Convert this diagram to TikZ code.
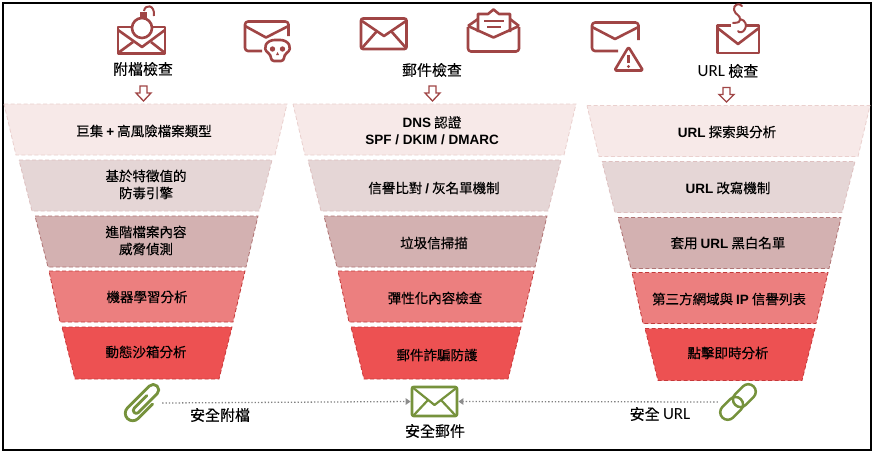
\documentclass[tikz,border=0pt]{standalone}
\usepackage{fontspec}
\setmainfont{Noto Sans CJK TC}[FakeBold=0.3]
\newfontfamily\latb{Liberation Sans}
\newfontfamily\latc{Carlito}
\usetikzlibrary{arrows.meta}
\definecolor{mailred}{HTML}{A04545}
\definecolor{mailgreen}{HTML}{76923C}
\newcommand{\ltn}[1]{{\latb\bfseries #1}}
\newcommand{\hdr}[1]{{\latc #1}}
\tikzset{
  rowa/.style={fill=#1,dash pattern=on 4pt off 2.5pt,line width=.8pt},
  lvla/.style={rowa=lvlafill,draw=lvlaline},
  lvlb/.style={rowa=lvlbfill,draw=lvlbline},
  lvlc/.style={rowa=lvlcfill,draw=lvlcline},
  lvld/.style={rowa=lvldfill,draw=lvldline},
  lvle/.style={rowa=lvlefill,draw=lvleline},
  rowtext/.style={align=center,inner sep=0pt,yshift=-1pt,font=\fontsize{13.5}{17}\selectfont},
  headtext/.style={align=center,inner sep=0pt,yshift=-1pt,font=\fontsize{15}{18}\selectfont},
  icon/.style={draw=mailred,line width=2.6pt,line join=round},
  okicon/.style={draw=mailgreen,line width=2.8pt,line join=round},
  downarrow/.style={draw=mailred,fill=white,line width=1.3pt,line join=miter},
  flowline/.style={draw=black!50,line width=1.3pt,dotted,-{Triangle[length=5pt,width=6.5pt,color=black!45]}}
}
\definecolor{lvlafill}{HTML}{F7E9E8}\definecolor{lvlaline}{HTML}{EAD0CE}
\definecolor{lvlbfill}{HTML}{E5D6D6}\definecolor{lvlbline}{HTML}{DDBFBF}
\definecolor{lvlcfill}{HTML}{D3B1B1}\definecolor{lvlcline}{HTML}{B07474}
\definecolor{lvldfill}{HTML}{EC7F7F}\definecolor{lvldline}{HTML}{C23A3A}
\definecolor{lvlefill}{HTML}{ED5152}\definecolor{lvleline}{HTML}{C8383A}
\begin{document}
\begin{tikzpicture}[x=1pt,y=-1pt]
\useasboundingbox (0,0) rectangle (874,453);
\fill[white] (0,0) rectangle (874,453);
\draw[line width=2.5pt] (3,3) rectangle (871,450);

% attachment column
\draw[lvla] (4,104) -- (287,104) -- (275,155) -- (16,155) -- cycle;
\draw[lvlb] (19,160) -- (272,160) -- (259,211) -- (32,211) -- cycle;
\draw[lvlc] (35,216) -- (258,216) -- (246,267) -- (48,267) -- cycle;
\draw[lvld] (49,271) -- (245,271) -- (233,322) -- (60,322) -- cycle;
\draw[lvle] (62,327) -- (232,327) -- (219,379) -- (75,379) -- cycle;
\node[rowtext] (a1) at (144,130) {巨集 \ltn{+} 高風險檔案類型};
\node[rowtext] (a2) at (146,183.5) {基於特徵值的\\防毒引擎};
\node[rowtext] (a3) at (146,239.5) {進階檔案內容\\威脅偵測};
\node[rowtext] (a4) at (147,296) {機器學習分析};
\node[rowtext] (a5) at (146,351) {動態沙箱分析};

% mail column
\draw[lvla] (293,104) -- (576,104) -- (564,155) -- (305,155) -- cycle;
\draw[lvlb] (308,160) -- (561,160) -- (548,211) -- (321,211) -- cycle;
\draw[lvlc] (324,216) -- (547,216) -- (535,267) -- (337,267) -- cycle;
\draw[lvld] (338,271) -- (534,271) -- (522,322) -- (349,322) -- cycle;
\draw[lvle] (351,327) -- (521,327) -- (508,379) -- (364,379) -- cycle;
\node[rowtext] (b1) at (432,129.5) {\ltn{DNS} 認證\\\ltn{SPF / DKIM / DMARC}};
\node[rowtext] (b2) at (434,187) {信譽比對 \ltn{/} 灰名單機制};
\node[rowtext] (b3) at (434,242) {垃圾信掃描};
\node[rowtext] (b4) at (435,297) {彈性化內容檢查};
\node[rowtext] (b5) at (437,354) {郵件詐騙防護};

% url column
\draw[lvla] (587,105.5) -- (870,105.5) -- (858,156.5) -- (599,156.5) -- cycle;
\draw[lvlb] (602,161.5) -- (855,161.5) -- (842,212.5) -- (615,212.5) -- cycle;
\draw[lvlc] (618,217.5) -- (841,217.5) -- (829,268.5) -- (631,268.5) -- cycle;
\draw[lvld] (632,272.5) -- (828,272.5) -- (816,323.5) -- (643,323.5) -- cycle;
\draw[lvle] (645,328.5) -- (815,328.5) -- (802,380.5) -- (658,380.5) -- cycle;
\node[rowtext] (c1) at (727,131) {\ltn{URL} 探索與分析};
\node[rowtext] (c2) at (728,187) {\ltn{URL} 改寫機制};
\node[rowtext] (c3) at (728,242) {套用 \ltn{URL} 黑白名單};
\node[rowtext] (c4) at (729,298) {第三方網域與 \ltn{IP} 信譽列表};
\node[rowtext] (c5) at (728,352) {點擊即時分析};

% headings
\node[headtext] (heada) at (143,68) {附檔檢查};
\node[headtext] (headb) at (432,69) {郵件檢查};
\node[headtext] (headc) at (728,70) {{\fontsize{17}{18}\selectfont\hdr{URL}} 檢查};

% hollow arrows
\draw[downarrow] (140,86) -- (147,86) -- (147,93) -- (151,93) -- (143.5,101) -- (136,93) -- (140,93) -- cycle;
\draw[downarrow] (429,86) -- (436,86) -- (436,93) -- (440,93) -- (432.5,101) -- (425,93) -- (429,93) -- cycle;
\draw[downarrow] (723,87.5) -- (730,87.5) -- (730,94.5) -- (734,94.5) -- (726.5,102) -- (719,94.5) -- (723,94.5) -- cycle;

% bomb mail
\draw[icon] (118,27) rectangle (165,53.5);
\draw[icon] (118,30) -- (142,47) -- (165,30);
\draw[icon] (118,53) -- (133,42);
\draw[icon] (165,53) -- (151,42);
\draw[icon,fill=white] (142,28) circle (10);
\fill[mailred] (139.5,12) rectangle (147,18);
\draw[icon,line width=2pt] (144,11) .. controls (145,4) and (155,4) .. (154,16);

% skull mail
\draw[icon,rounded corners=3pt] (262,51) -- (245,51) -- (245,21.5) -- (288.5,21.5) -- (288.5,36);
\draw[icon] (245,26) -- (266,37.5) -- (288.5,26);
\draw[draw=white,fill=white,line width=5pt] (277.5,48) ellipse (11.5 and 8.5);
\draw[icon,fill=white,rounded corners=3pt] (271,55) .. controls (261,48) and (267,40) .. (277.5,40) .. controls (288,40) and (294,48) .. (284,55) -- (284,61) -- (271,61) -- cycle;
\fill[mailred] (272.5,49) circle (2.7) (282.5,49) circle (2.7);
\fill[mailred] (277.5,52) -- (279,55) -- (276,55) -- cycle;

% plain mail
\draw[icon,rounded corners=2pt] (361,18.5) rectangle (406.5,49);
\draw[icon] (362,21) -- (384,36) -- (406,21);
\draw[icon] (362,48) -- (377,31);
\draw[icon] (406,48) -- (391,31);

% opened mail
\draw[icon,rounded corners=3pt] (468,27) -- (468,51.5) -- (519,51.5) -- (519,27);
\draw[icon] (468,26) -- (478,19);
\draw[icon] (519,26) -- (510,19);
\draw[icon,fill=white] (478,32) -- (478,14) -- (488,14) -- (493.5,9.5) -- (499,14) -- (510,14) -- (510,32);
\draw[icon] (468,26) -- (493.5,37.5) -- (519,26);
\draw[icon,line width=2pt] (484,20.5) -- (504,20.5);
\draw[icon,line width=2pt] (487,27) -- (501,27);

% warning mail
\draw[icon,rounded corners=3pt] (618,51) -- (592,51) -- (592,22.5) -- (638.5,22.5) -- (638.5,40);
\draw[icon] (592,27) -- (615,39) -- (638.5,27);
\draw[draw=white,line width=6pt,line join=round] (628.5,47) -- (643,70.5) -- (614.5,70.5) -- cycle;
\draw[icon,fill=white,rounded corners=1.5pt] (628.5,47) -- (643,70.5) -- (614.5,70.5) -- cycle;
\draw[icon] (628.5,55) -- (628.5,62.5);
\fill[mailred] (628.5,66.5) circle (1.6);

% hook mail
\draw[icon] (731,25.5) -- (717.5,25.5) -- (717.5,53) -- (759,53) -- (759,25.5) -- (746,25.5);
\draw[icon] (717.5,28) -- (738,44) -- (759,28);
\draw[icon,line cap=round,line width=2pt] (742,6) .. controls (739,2) and (733,5) .. (734,10) .. controls (735,15) and (741,15) .. (740,20) .. controls (739,24) and (735,22) .. (733,23);
\draw[icon,line cap=round,line width=2pt] (740,19) .. controls (746,20) and (747,26) .. (745,29) .. controls (743,33) and (739,33) .. (738,31);

% safe side
\node[draw=none,minimum width=38pt,minimum height=38pt,inner sep=0pt] (clip) at (143,403) {};
\node[draw=none,minimum width=40pt,minimum height=38pt,inner sep=0pt] (chain) at (738,402) {};
\node[okicon,rounded corners=2pt,minimum width=45pt,minimum height=29pt,inner sep=0pt] (safemail) at (434.5,401.5) {};
\draw[okicon,line width=2.2pt] (safemail.north west) ++(1,1) -- (434.5,405) -- (457,387.5);
\draw[okicon,line width=2.2pt] (413,416) -- (428,400);
\draw[okicon,line width=2.2pt] (456,416) -- (441,400);

\begin{scope}[shift={(clip.center)},rotate=45]
\draw[okicon,line cap=round] (6,7.5) -- (-14.5,7.5) arc[start angle=90,end angle=270,radius=7.5] -- (16.5,-7.5) arc[start angle=-90,end angle=90,radius=5.5] -- (-10,3.5) arc[start angle=90,end angle=270,radius=3] -- (8,-2.5);
\end{scope}
\begin{scope}[shift={(chain.center)},rotate=45]
\draw[okicon,line width=2.5pt,rounded corners=7.4pt] (-22,-7.5) rectangle (4,7.5);
\draw[okicon,line width=2.5pt,rounded corners=7.4pt] (-4,-7.5) rectangle (22,7.5);
\end{scope}

\draw[flowline] (clip.east) -- (safemail.west);
\draw[flowline] (chain.west) -- (safemail.east);

\node[headtext] (safea) at (220,414) {安全附檔};
\node[headtext] (safeb) at (435,430) {安全郵件};
\node[headtext] (safec) at (660,413) {安全 {\fontsize{17}{18}\selectfont\hdr{URL}}};
\end{tikzpicture}
\end{document}
